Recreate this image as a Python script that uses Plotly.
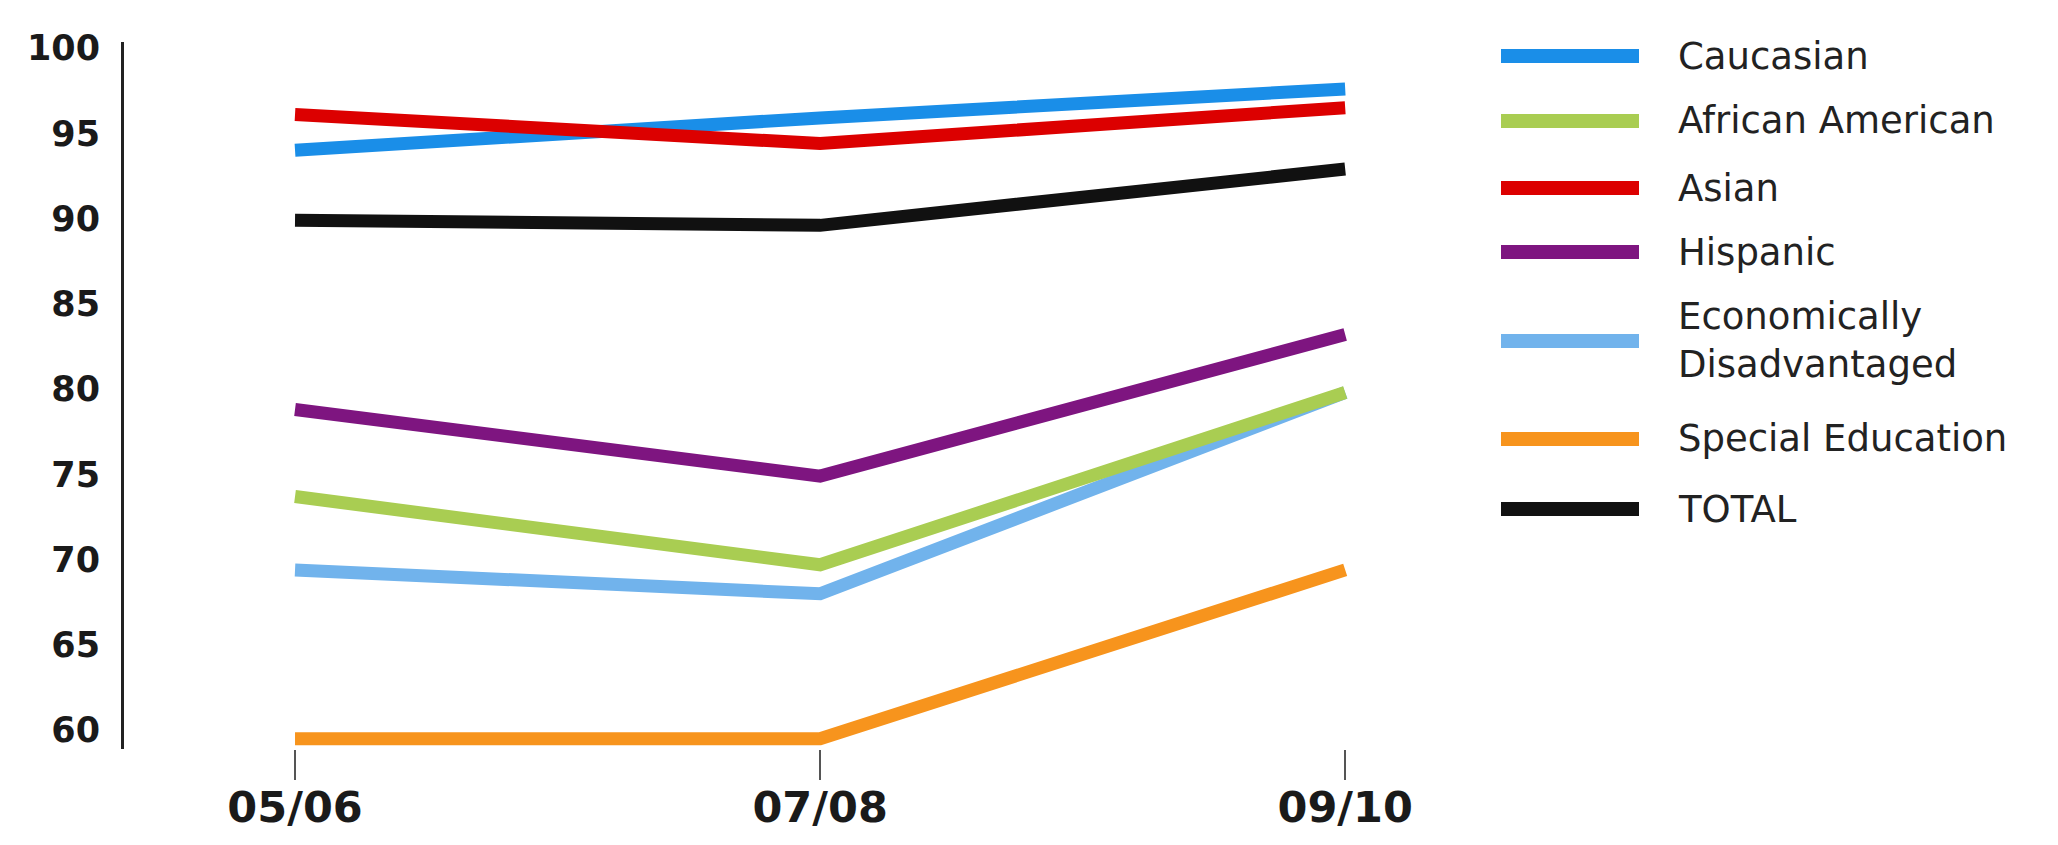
import plotly.graph_objects as go

years = ["05/06", "07/08", "09/10"]
series_names = ["Caucasian", "African American", "Asian", "Hispanic",
                "Economically<br>Disadvantaged", "Special Education", "TOTAL"]
caucasian = [94.0, 95.9, 97.6]
african_american = [73.7, 69.7, 79.8]
asian = [96.1, 94.4, 96.5]
hispanic = [78.8, 74.9, 83.2]
econ_disadv = [69.4, 68.0, 79.8]
special_ed = [59.5, 59.5, 69.4]
total = [89.9, 89.6, 92.9]
y_ticks = [60, 65, 70, 75, 80, 85, 90, 95, 100]

values = [caucasian, african_american, asian, hispanic, econ_disadv, special_ed, total]
colors = ["#1a8ee8", "#a9cd52", "#dc0000", "#7e1580", "#71b3ec", "#f7941d", "#111111"]

fig = go.Figure()
# draw order: lower lines first, total/caucasian/asian on top
order = [5, 4, 1, 3, 6, 0, 2]
for i in order:
    fig.add_trace(go.Scatter(x=years, y=values[i], mode="lines",
                             name=series_names[i].replace("<br>", " "),
                             line=dict(color=colors[i], width=13),
                             showlegend=False))

OFF = 4
L, R = 116, 1396          # plot area in figure px
T, B = 34, 741
def px_x(p):
    return (p - OFF - L) / (R - L)
def px_y(p):
    return (B - (p - OFF)) / (B - T)

# custom legend with long line swatches
legend_y_px = [52, 117, 184, 248, 337, 435, 505]
for name, col, ly in zip(series_names, colors, legend_y_px):
    fig.add_shape(type="line", xref="paper", yref="paper",
                  x0=px_x(1497), x1=px_x(1635), y0=px_y(ly), y1=px_y(ly),
                  line=dict(color=col, width=14))
    fig.add_annotation(xref="paper", yref="paper", x=px_x(1672), y=px_y(ly),
                       text=name, showarrow=False, xanchor="left", yanchor="middle",
                       align="left",
                       font=dict(family="DejaVu Sans", size=37, color="#222222"))

fig.update_layout(
    width=2058, height=845,
    margin=dict(l=L, r=2058 - R, t=T, b=845 - B),
    paper_bgcolor="white", plot_bgcolor="white",
    showlegend=False,
)
fig.update_xaxes(type="category", range=[-0.3257, 2.112], showgrid=False, zeroline=False,
                 showline=False, ticks="outside", ticklen=30, tickwidth=1.5,
                 tickcolor="#555555", ticklabelstandoff=-10,
                 tickfont=dict(family="DejaVu Sans", size=43, color="#1a1a1a", weight="bold"))
fig.update_yaxes(range=[58.9, 100.35], tickvals=y_ticks, showgrid=False, zeroline=False,
                 showline=True, linecolor="#222222", linewidth=3, ticks="",
                 ticklabelstandoff=14,
                 tickfont=dict(family="DejaVu Sans", size=35, color="#1a1a1a", weight="bold"))

fig.write_html("out.html")
